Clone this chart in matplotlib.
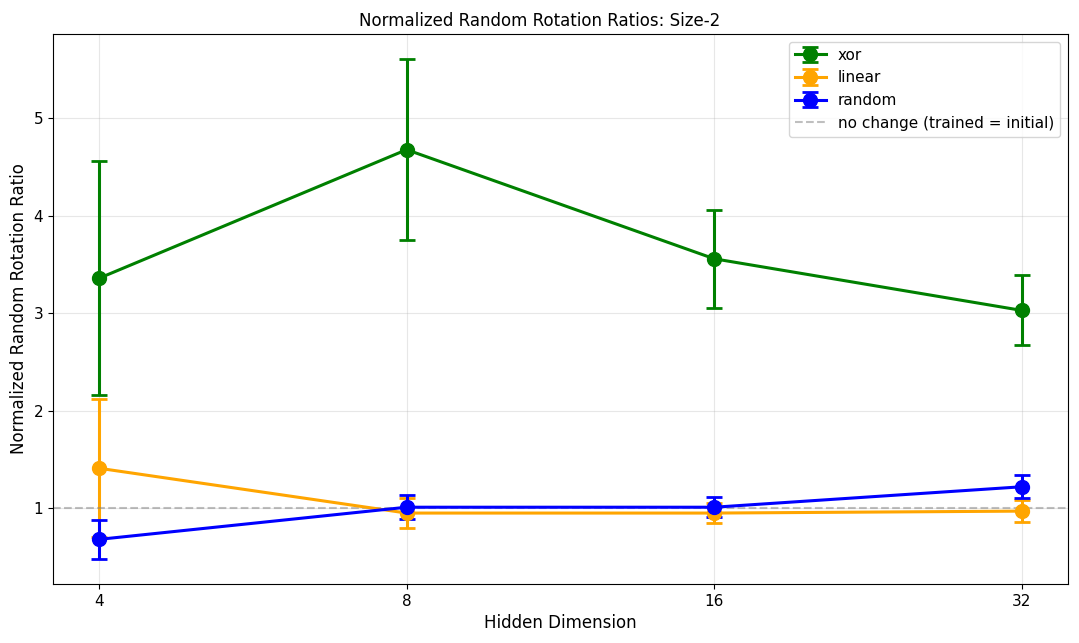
import numpy as np
import matplotlib
matplotlib.use("Agg")
import matplotlib.pyplot as plt

hidden_dims = [4, 8, 16, 32]

xor_mean = [3.36, 4.68, 3.56, 3.03]
xor_err = [1.20, 0.93, 0.50, 0.36]

linear_mean = [1.41, 0.95, 0.95, 0.97]
linear_err = [0.71, 0.15, 0.10, 0.115]

random_mean = [0.68, 1.01, 1.01, 1.22]
random_err = [0.20, 0.125, 0.10, 0.12]

fig, ax = plt.subplots(figsize=(10.79, 6.43), dpi=100)

h_xor = ax.errorbar(hidden_dims, xor_mean, yerr=xor_err, marker='o', color='green',
                    linewidth=2.2, markersize=10, capsize=6, capthick=2, label='xor')
h_lin = ax.errorbar(hidden_dims, linear_mean, yerr=linear_err, marker='o', color='orange',
                    linewidth=2.2, markersize=10, capsize=6, capthick=2, label='linear')
h_rnd = ax.errorbar(hidden_dims, random_mean, yerr=random_err, marker='o', color='blue',
                    linewidth=2.2, markersize=10, capsize=6, capthick=2, label='random')
h_ref = ax.axhline(1.0, color='gray', linestyle='--', alpha=0.5, linewidth=1.5,
                   label='no change (trained = initial)')

ax.set_xscale('log', base=2)
ax.set_xticks(hidden_dims)
ax.set_xticklabels([str(d) for d in hidden_dims])
ax.minorticks_off()
ax.tick_params(labelsize=11)

ax.set_xlabel('Hidden Dimension', fontsize=12)
ax.set_ylabel('Normalized Random Rotation Ratio', fontsize=12)
fig.suptitle('Normalized Random Rotation Ratios: Size-2', fontsize=12, x=0.5, y=0.982)
ax.grid(True, alpha=0.3)
ax.legend(handles=[h_xor, h_lin, h_rnd, h_ref], loc='upper right', fontsize=11)

plt.subplots_adjust(left=0.049, right=0.9898, top=0.947, bottom=0.092)
plt.savefig('out.png')
plt.close()
